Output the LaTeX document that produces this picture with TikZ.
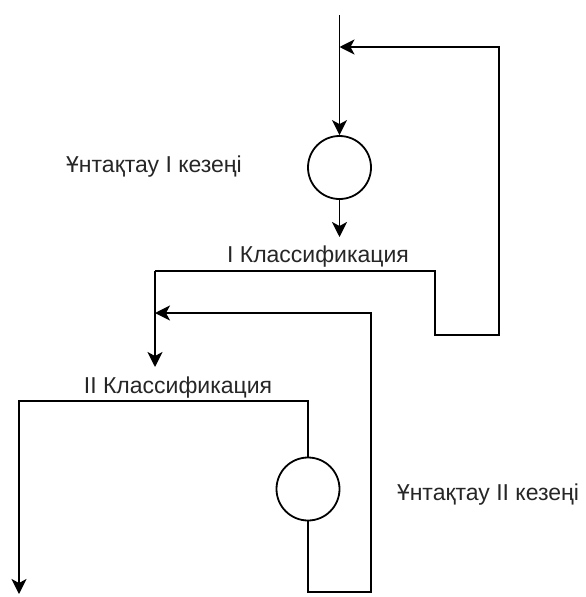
\documentclass[tikz,border=0pt]{standalone}
\usepackage{fontspec}
\setmainfont{Liberation Sans}
\usetikzlibrary{arrows.meta}
\begin{document}
\begin{tikzpicture}[x=1pt,y=-1pt,
  ln/.style={line width=1.9pt,draw=black},
  arr/.style={ln,-{Stealth[length=15pt,width=15pt,inset=4pt]}},
  circ/.style={circle,draw=black,line width=1.8pt,minimum size=63pt,inner sep=0pt},
  lbl/.style={anchor=base,inner sep=0pt,text=black!85,font=\fontsize{23}{28}\selectfont}]
\useasboundingbox (0,0) rectangle (586,597);
% stages
\node[circ] (g1) at (339.5,167.5) {};
\node[circ] (g2) at (308,489) {};
% labels
\node[lbl] (t1) at (154,172) {Ұнтақтау I кезеңі};
\node[lbl] (k1) at (318,262) {I Классификация};
\node[lbl] (k2) at (178,393) {II Классификация};
\node[lbl] (t2) at (488,500) {Ұнтақтау II кезеңі};
% coordinates
\coordinate (top) at (339.5,15);
\coordinate (j1) at (339.5,47);
\coordinate (a1) at (339.5,237);
\coordinate (q1) at (155,271);
\coordinate (q2) at (435,271);
\coordinate (q3) at (435,335);
\coordinate (q4) at (499,335);
\coordinate (q5) at (499,47);
\coordinate (a2) at (155,367);
\coordinate (j2) at (155,313);
\coordinate (r1) at (371,313);
\coordinate (r2) at (371,592);
\coordinate (r3) at (308,592);
\coordinate (s1) at (308,401);
\coordinate (s2) at (19,401);
\coordinate (a3) at (19,594);
% connectors
\draw[arr] (top) -- (g1);
\draw[arr] (g1) -- (a1);
\draw[arr] (q1) -- (q2) -- (q3) -- (q4) -- (q5) -- (j1);
\draw[arr] (q1) -- (a2);
\draw[arr] (g2) -- (r3) -- (r2) -- (r1) -- (j2);
\draw[arr] (g2) -- (s1) -- (s2) -- (a3);
\end{tikzpicture}
\end{document}
